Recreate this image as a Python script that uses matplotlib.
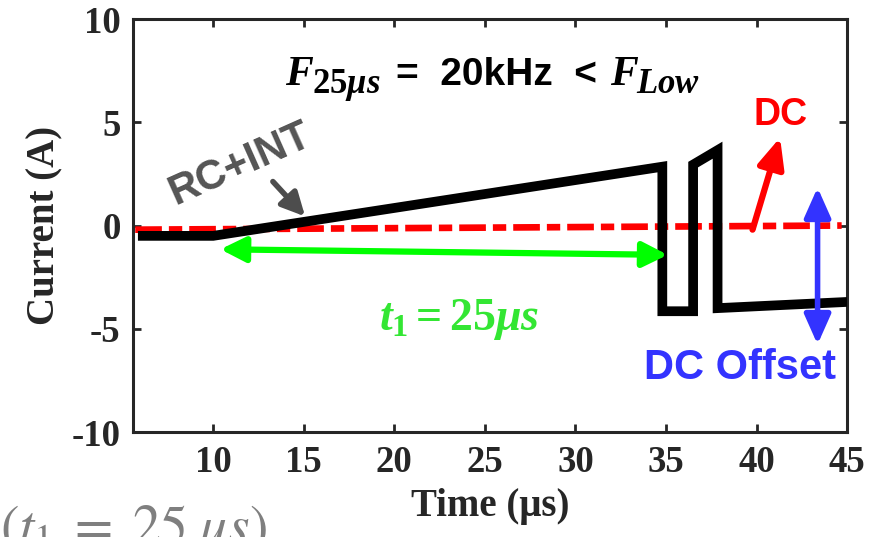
import matplotlib
matplotlib.use("Agg")
import matplotlib.pyplot as plt

# waveform (time in us, current in A)
t_wave = [5.85, 10.0, 34.8, 34.8, 36.5, 36.5, 37.85, 37.85, 45.0]
i_wave = [-0.5, -0.5, 2.85, -4.15, -4.15, 2.95, 3.65, -4.0, -3.7]

t_dc = [5.7, 44.7]
i_dc = [-0.2, 0.0]

x_ticks = [10, 15, 20, 25, 30, 35, 40, 45]
y_ticks = [-10, -5, 0, 5, 10]

plt.rcParams['mathtext.fontset'] = 'custom'
plt.rcParams['mathtext.it'] = 'Liberation Serif:italic:bold'
plt.rcParams['mathtext.rm'] = 'Liberation Serif:bold'
plt.rcParams['mathtext.bf'] = 'Liberation Serif:bold'

dark = '#262626'
fig = plt.figure(figsize=(8.87, 5.37), dpi=100)
ax = fig.add_axes([0.150, 0.1955, 0.805, 0.769])

ax.plot(t_dc, i_dc, color='#ff0000', lw=4.8, dashes=(4.0, 1.05, 2.0, 1.05),
        zorder=2)
ax.plot(t_wave, i_wave, color='black', lw=7, solid_joinstyle='miter',
        solid_capstyle='butt', zorder=3)

ax.set_xlim(5.58, 45)
ax.set_ylim(-10, 10)
ax.set_xticks(x_ticks)
ax.set_yticks(y_ticks)
serif = dict(family='Liberation Serif', weight='bold', size=26.5)
ax.set_xticklabels([str(v) for v in x_ticks], fontdict=serif, color=dark)
ax.set_yticklabels([str(v) for v in y_ticks], fontdict=serif, color=dark)
ax.tick_params(direction='in', length=6, width=2, top=True, right=True,
               color=dark, pad=9)
for s in ax.spines.values():
    s.set_linewidth(2.2)
    s.set_color(dark)

ax.set_xlabel('Time (\u03bcs)', family='Liberation Serif', weight='bold',
              size=28, color=dark, labelpad=6)
ax.set_ylabel('Current (A)', family='Liberation Serif', weight='bold',
              size=28, color=dark, labelpad=6)

# arrows
ax.annotate('', xy=(10.4, -1.15), xytext=(35.1, -1.42),
            arrowprops=dict(arrowstyle='<|-|>,head_length=1.5,head_width=0.75',
                            color='#00ff00', lw=4.5, shrinkA=0, shrinkB=0,
                            mutation_scale=10), zorder=4)
ax.annotate('', xy=(41.3, 4.26), xytext=(39.78, -0.2),
            arrowprops=dict(arrowstyle='-|>,head_length=1.8,head_width=0.8',
                            color='#ff0000', lw=4.5, shrinkA=0, shrinkB=0,
                            mutation_scale=10), zorder=4)
ax.annotate('', xy=(43.37, 1.84), xytext=(43.37, -5.76),
            arrowprops=dict(arrowstyle='<|-|>,head_length=1.8,head_width=0.8',
                            color='#3333ff', lw=4, shrinkA=0, shrinkB=0,
                            mutation_scale=10), zorder=4)
ax.annotate('', xy=(15.08, 0.44), xytext=(13.3, 2.13),
            arrowprops=dict(arrowstyle='-|>,head_length=1.4,head_width=0.7',
                            color='#4d4d4d', lw=4, shrinkA=0, shrinkB=0,
                            mutation_scale=10), zorder=4)

# title line inside the plot, built from pieces
big_f = dict(family='Liberation Serif', style='italic', weight='bold', size=30,
             va='baseline', ha='left', transform=ax.transAxes)
ax.text(0.213, 0.840, 'F', **big_f)
ax.text(0.250, 0.821, r'$25\mu s$', size=25, ha='left', va='baseline',
        transform=ax.transAxes, math_fontfamily='custom')
ax.text(0.509, 0.840, '=  20kHz  <', size=28, ha='center', va='baseline',
        transform=ax.transAxes, family='Liberation Sans', weight='bold')
ax.text(0.668, 0.840, 'F', **big_f)
ax.text(0.705, 0.821, r'$Low$', size=25, ha='left', va='baseline',
        transform=ax.transAxes, math_fontfamily='custom')

sans = dict(family='Liberation Sans', weight='bold')
ax.text(11.49, 2.95, 'RC+INT', size=30, rotation=24, ha='center', va='center',
        color='#555555', **sans)
ax.text(41.33, 5.33, 'DC', size=27, ha='center', va='center',
        color='#ff0000', **sans)
ax.text(39.1, -6.88, 'DC Offset', size=30, ha='center', va='center',
        color='#3333ff', **sans)
ax.text(23.59, -4.55, r'$t_1 = 25\mu s$', size=33, ha='center', va='center',
        color='#33e633', math_fontfamily='custom')

# leftover text from the slide, cut by the bottom edge as in the source
fig.text(0.0, -0.013, r'$(t_1\;=\;25\;\mu s)$', size=40, ha='left',
         va='baseline', color='#7f7f7f', math_fontfamily='stix')

fig.savefig('out.png', dpi=100)
